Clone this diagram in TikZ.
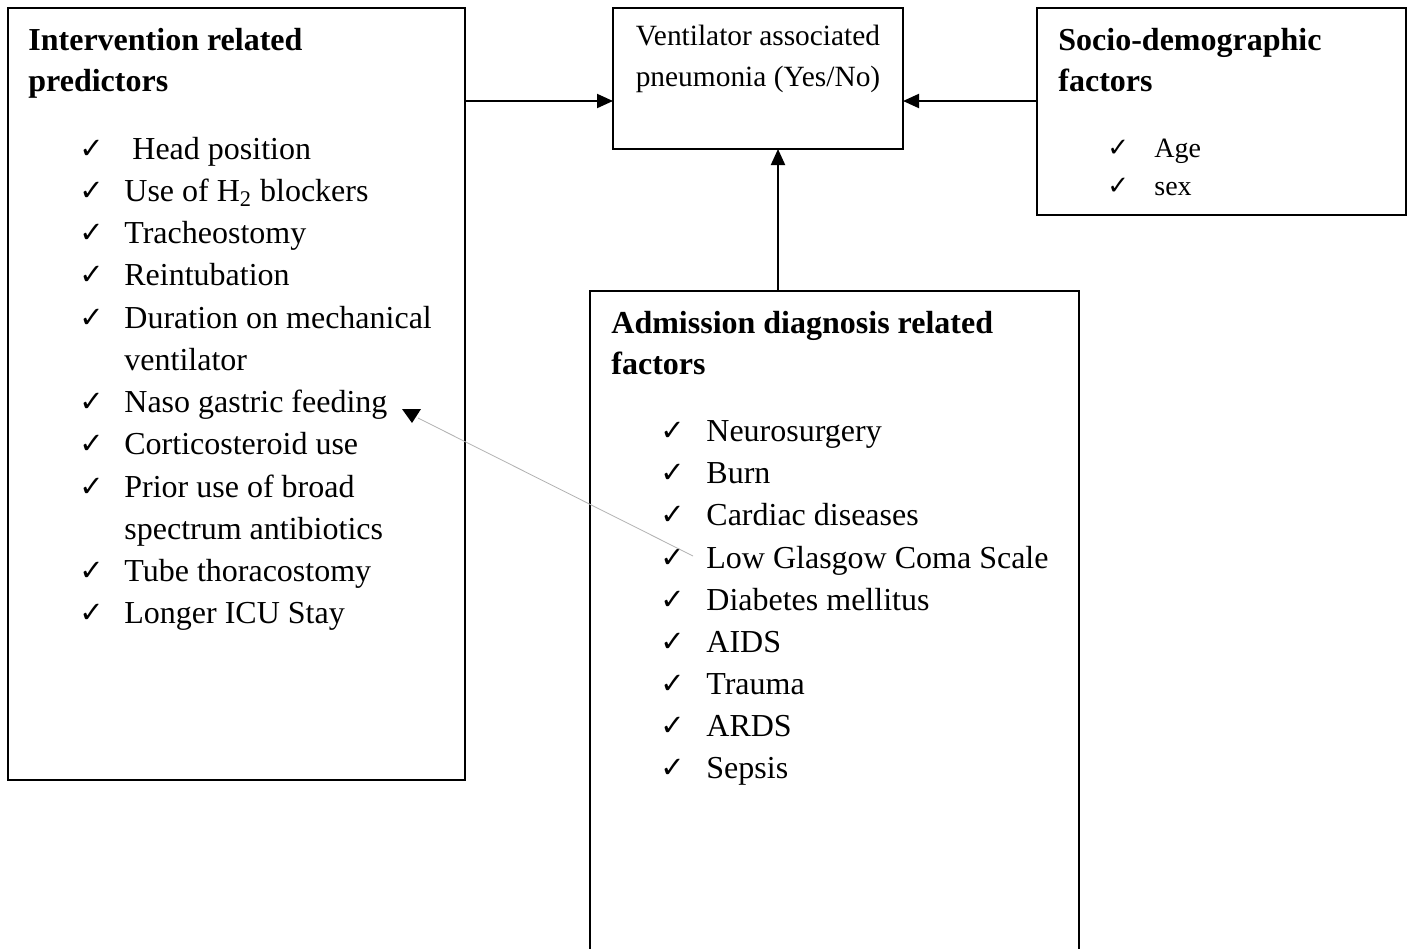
\documentclass[tikz,border=0pt]{standalone}
\usepackage{fontspec}
\setmainfont{Liberation Serif}
\newfontfamily\symfont{DejaVu Sans}
\usetikzlibrary{arrows.meta}
\tikzset{
  box/.style={draw=black, line width=1pt},
  conn/.style={line width=1pt, -{Triangle[length=8pt,width=7pt]}},
  ttl/.style={anchor=base west, inner sep=0pt, font=\fontsize{16}{21}\selectfont\bfseries},
  item/.style={anchor=base west, inner sep=0pt, font=\fontsize{16}{21}\selectfont},
  sitem/.style={anchor=base west, inner sep=0pt, font=\fontsize{14}{21}\selectfont},
  ctext/.style={anchor=base, inner sep=0pt, font=\fontsize{14.7}{21}\selectfont},
  chk/.style={anchor=base west, inner sep=0pt, font=\fontsize{14.5}{16}\symfont\bfseries},
  schk/.style={anchor=base west, inner sep=0pt, font=\fontsize{13}{16}\symfont\bfseries},
}
\begin{document}
\begin{tikzpicture}[x=0.5pt,y=-0.5pt]
\useasboundingbox (0,0) rectangle (1413,948);
\clip (0,0) rectangle (1413,948);
\fill[white] (0,0) rectangle (1413,948);
% boxes
\draw[box] (8,8) rectangle (465,780);
\draw[box] (613,8) rectangle (903,149);
\draw[box] (1037,8) rectangle (1406,215);
\draw[box] (590,291) rectangle (1079,970);
\coordinate (lbR) at (465,101);
\coordinate (cbL) at (613,101);
\coordinate (rbL) at (1037,101);
\coordinate (cbR) at (903,101);
\coordinate (bbT) at (778,291);
\coordinate (cbB) at (778,149);
\draw[conn] (lbR) -- (cbL);
\draw[conn] (rbL) -- (cbR);
\draw[conn] (bbT) -- (cbB);
% center text
\node[ctext] (c1) at (758,45) {Ventilator associated};
\node[ctext] (c2) at (758,86) {pneumonia (Yes/No)};
% left box
\node[ttl] (lt1) at (28,50) {Intervention related};
\node[ttl] (lt2) at (28,91) {predictors};
\foreach \y/\t [count=\i] in {159/{\ Head position},201/{Use of H\textsubscript{2} blockers},243/Tracheostomy,285/Reintubation,328/Duration on mechanical,412/Naso gastric feeding,454/Corticosteroid use,497/Prior use of broad,581/Tube thoracostomy,623/Longer ICU Stay}{
  \node[chk] (lc\i) at (79,\y-1) {✓};
  \node[item] (li\i) at (124,\y) {\t};
}
\node[item] (li11) at (124,370) {ventilator};
\node[item] (li12) at (124,539) {spectrum antibiotics};
% right box
\node[ttl] (rt1) at (1058,50) {Socio-demographic};
\node[ttl] (rt2) at (1058,91) {factors};
\node[schk] (rc1) at (1107,156) {✓};
\node[sitem] (ri1) at (1154,157) {Age};
\node[schk] (rc2) at (1107,194) {✓};
\node[sitem] (ri2) at (1154,195) {sex};
% bottom box
\node[ttl] (bt1) at (611,333) {Admission diagnosis related};
\node[ttl] (bt2) at (611,374) {factors};
\foreach \y/\t [count=\i] in {441/Neurosurgery,483/Burn,525/Cardiac diseases,568/Low Glasgow Coma Scale,610/Diabetes mellitus,652/AIDS,694/Trauma,736/ARDS,778/Sepsis}{
  \node[chk] (bc\i) at (660,\y-1) {✓};
  \node[item] (bi\i) at (706,\y) {\t};
}
% stray thin arrow
\coordinate (gs) at (693,556);
\coordinate (ge) at (418,418);
\draw[gray!60, line width=0.4pt] (gs) -- (ge);
\fill[black] (402,409) -- (421,409) -- (412,423) -- cycle;
\end{tikzpicture}
\end{document}
